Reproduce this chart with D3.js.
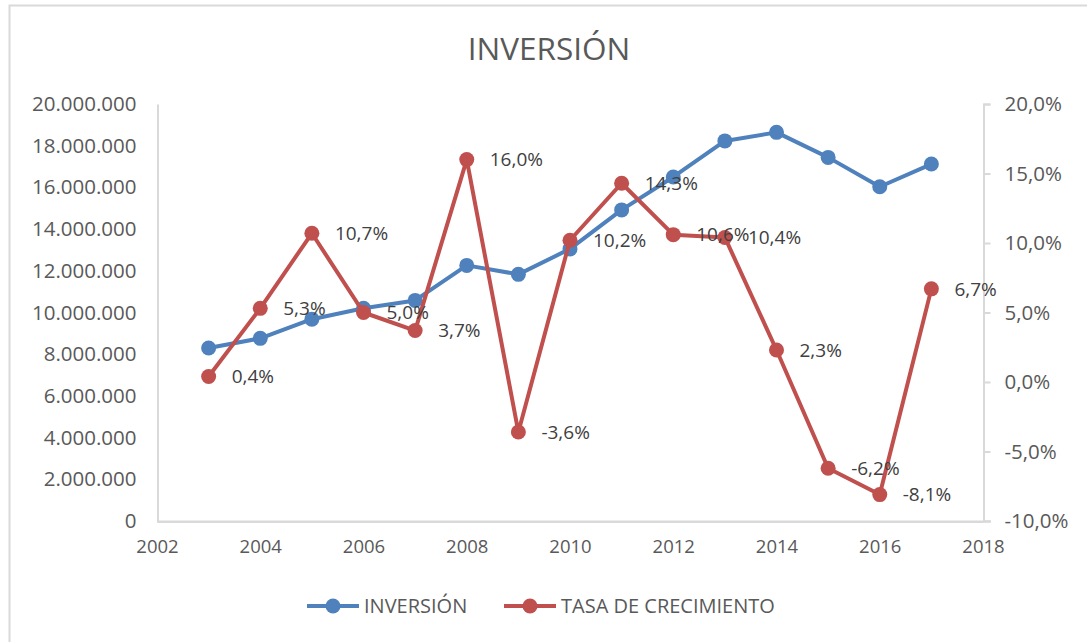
<!DOCTYPE html>
<html lang="es">
<head>
    <meta charset="UTF-8">
    <title>INVERSIÓN</title>
    <script type="text/javascript" src="https://cdnjs.cloudflare.com/ajax/libs/d3/7.8.5/d3.min.js"></script>
    <style>
        body { margin: 0; background: #fff; }
        text { font-family: "Open Sans", sans-serif; }
    </style>
</head>
<body>
    <div id="draw-here"></div>

    <script>
    /* global d3 */

    // data
    var years = [2003, 2004, 2005, 2006, 2007, 2008, 2009, 2010, 2011, 2012, 2013, 2014, 2015, 2016, 2017];
    var inversion = [8300000, 8760000, 9680000, 10200000, 10580000, 12260000, 11830000, 13050000,
                     14920000, 16500000, 18230000, 18640000, 17440000, 16030000, 17120000];
    var tasa = [0.4, 5.3, 10.7, 5.0, 3.7, 16.0, -3.6, 10.2, 14.3, 10.6, 10.4, 2.3, -6.2, -8.1, 6.7];
    var yearTicks = [2002, 2004, 2006, 2008, 2010, 2012, 2014, 2016, 2018];
    var leftTicks = [0, 2000000, 4000000, 6000000, 8000000, 10000000, 12000000, 14000000, 16000000, 18000000, 20000000];
    var rightTicks = [-10, -5, 0, 5, 10, 15, 20];

    // size of chart
    var w = 1087;
    var h = 642;
    var blue = "#4f81bd";
    var red = "#c0504d";
    var axisColor = "#d9d9d9";
    var textColor = "#595959";

    var svg = d3.select("#draw-here")
        .append("svg")
        .attr("width", w)
        .attr("height", h);

    // chart border (left and top only show)
    svg.append("path")
        .attr("d", "M9.5,642 V5.5 H1087")
        .attr("fill", "none")
        .attr("stroke", axisColor)
        .attr("stroke-width", 2);

    var x = d3.scaleLinear().domain([2002, 2018]).range([157, 983]);
    var yLeft = d3.scaleLinear().domain([0, 20000000]).range([521, 104]);
    var yRight = d3.scaleLinear().domain([-10, 20]).range([521, 104]);

    // spanish style numbers, plain hyphen for minus
    var fmtMiles = function(d) { return d3.format(",")(d).replace(/,/g, "."); };
    var fmtPct = function(d) { return d3.format(".1f")(d).replace(".", ",").replace("\u2212", "-") + "%"; };

    // title
    svg.append("text")
        .attr("x", 549)
        .attr("y", 60)
        .attr("text-anchor", "middle")
        .attr("font-size", "31.5px")
        .attr("fill", textColor)
        .text("INVERSIÓN");

    // left axis
    var gl = svg.append("g")
        .attr("transform", "translate(157.5,0)")
        .call(d3.axisLeft(yLeft).tickValues(leftTicks).tickFormat(fmtMiles).tickSize(0).tickPadding(21));

    // right axis
    var gr = svg.append("g")
        .attr("transform", "translate(983.5,0)")
        .call(d3.axisRight(yRight).tickValues(rightTicks).tickFormat(fmtPct).tickSize(7).tickSizeOuter(7).tickPadding(14));

    // bottom axis
    var gb = svg.append("g")
        .attr("transform", "translate(0,521.5)")
        .call(d3.axisBottom(x).tickValues(yearTicks).tickFormat(d3.format("d")).tickSize(0).tickPadding(18));

    // extend bottom line past right axis
    svg.append("line")
        .attr("x1", 157).attr("x2", 991)
        .attr("y1", 521.5).attr("y2", 521.5)
        .attr("stroke", axisColor).attr("stroke-width", 2);

    [gl, gr, gb].forEach(function(g) {
        g.select(".domain").attr("stroke", axisColor).attr("stroke-width", 2);
        g.selectAll(".tick line").attr("stroke", axisColor).attr("stroke-width", 2);
        g.selectAll(".tick text")
            .attr("fill", textColor)
            .attr("font-size", "20.5px")
            .attr("font-family", "Open Sans, sans-serif");
    });
    gb.selectAll(".tick text").attr("font-size", "18.5px");

    // lines
    var lineInv = d3.line()
        .x(function(d, i) { return x(years[i]); })
        .y(function(d) { return yLeft(d); });
    var lineTasa = d3.line()
        .x(function(d, i) { return x(years[i]); })
        .y(function(d) { return yRight(d); });

    svg.append("path")
        .attr("d", lineInv(inversion))
        .attr("fill", "none")
        .attr("stroke", blue)
        .attr("stroke-width", 4)
        .attr("stroke-linejoin", "round");

    svg.selectAll(".dot-inv")
        .data(inversion)
        .enter()
        .append("circle")
        .attr("class", "dot-inv")
        .attr("cx", function(d, i) { return x(years[i]); })
        .attr("cy", function(d) { return yLeft(d); })
        .attr("r", 7.5)
        .attr("fill", blue);

    svg.append("path")
        .attr("d", lineTasa(tasa))
        .attr("fill", "none")
        .attr("stroke", red)
        .attr("stroke-width", 4)
        .attr("stroke-linejoin", "round");

    svg.selectAll(".dot-tasa")
        .data(tasa)
        .enter()
        .append("circle")
        .attr("class", "dot-tasa")
        .attr("cx", function(d, i) { return x(years[i]); })
        .attr("cy", function(d) { return yRight(d); })
        .attr("r", 7.5)
        .attr("fill", red);

    // data labels for growth rate
    svg.selectAll(".lbl")
        .data(tasa)
        .enter()
        .append("text")
        .attr("class", "lbl")
        .attr("x", function(d, i) { return x(years[i]) + 23; })
        .attr("y", function(d) { return yRight(d); })
        .attr("dy", "0.35em")
        .attr("font-size", "19px")
        .attr("fill", "#404040")
        .text(fmtPct);

    // legend
    var legend = [
        { name: "INVERSIÓN", color: blue, x: 307 },
        { name: "TASA DE CRECIMIENTO", color: red, x: 504 }
    ];
    var lg = svg.selectAll(".legend")
        .data(legend)
        .enter()
        .append("g")
        .attr("class", "legend")
        .attr("transform", function(d) { return "translate(" + d.x + ",606)"; });
    lg.append("line")
        .attr("x1", 0).attr("x2", 52)
        .attr("stroke", function(d) { return d.color; })
        .attr("stroke-width", 4);
    lg.append("circle")
        .attr("cx", 26)
        .attr("r", 7.5)
        .attr("fill", function(d) { return d.color; });
    lg.append("text")
        .attr("x", 57)
        .attr("dy", "0.35em")
        .attr("font-size", "20px")
        .attr("fill", textColor)
        .text(function(d) { return d.name; });
    </script>
</body>
</html>
